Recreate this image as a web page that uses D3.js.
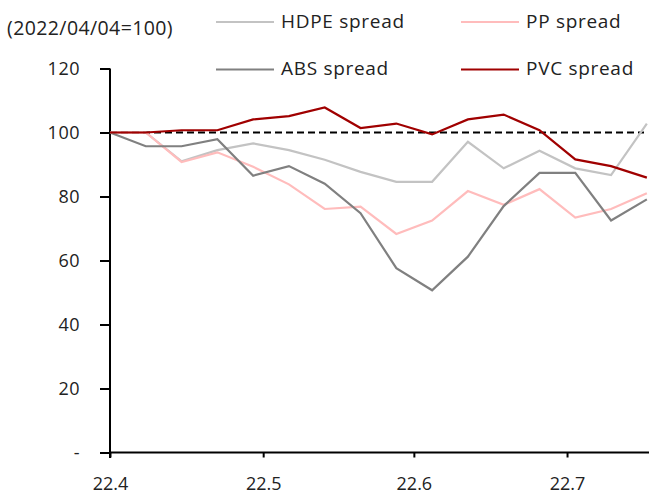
<!DOCTYPE html>
<html>
<head>
<meta charset="utf-8">
<script src="https://cdn.jsdelivr.net/npm/d3@7"></script>
<style>
  body { margin: 0; background: #fff; }
  text { font-family: "Open Sans", "Noto Sans", sans-serif; fill: #222; }
</style>
</head>
<body>
<script>
// weekly points, index 0 = 2022/04/04
var weeks = d3.range(16);
var hdpe = [100, 100, 91, 94.5, 96.6, 94.5, 91.5, 87.7, 84.6, 84.6, 97.1, 88.8, 94.3, 88.8, 86.7, 102.8];
var pp   = [100, 100, 90.8, 93.8, 89.3, 83.8, 76.1, 76.8, 68.3, 72.5, 81.7, 77.4, 82.3, 73.4, 76.1, 81.0];
var abs  = [100, 95.7, 95.7, 97.9, 86.5, 89.5, 84, 74.8, 57.6, 50.7, 61.2, 77.0, 87.4, 87.4, 72.5, 79.1];
var pvc  = [100, 100, 100.7, 100.7, 104.1, 105.1, 107.8, 101.4, 102.8, 99.4, 104.1, 105.6, 100.7, 91.6, 89.5, 85.9];

var xTicks = [0, 4.28, 8.49, 12.77];
var xLabels = ["22.4", "22.5", "22.6", "22.7"];
var yTicks = [0, 20, 40, 60, 80, 100, 120];

var series = [
  {name: "HDPE spread", values: hdpe, color: "#c3c3c3"},
  {name: "PP spread", values: pp, color: "#ffbcbc"},
  {name: "ABS spread", values: abs, color: "#808080"},
  {name: "PVC spread", values: pvc, color: "#a00000"}
];

var svg = d3.select("body").append("svg")
  .attr("width", 649)
  .attr("height", 492);

var x = d3.scaleLinear().domain([0, 15.06]).range([110, 649]);
var y = d3.scaleLinear().domain([0, 120]).range([452.5, 68.5]);

// y axis
var yAxis = svg.append("g")
  .attr("transform", "translate(110,0)")
  .call(d3.axisLeft(y).tickValues(yTicks).tickSize(10).tickPadding(20)
    .tickFormat(function(d) { return d === 0 ? "-" : d; }));
yAxis.select(".domain").attr("stroke", "#000").attr("stroke-width", 2)
  .attr("d", "M0,68.5V458");
yAxis.selectAll(".tick line").attr("stroke", "#000").attr("stroke-width", 2);
yAxis.selectAll("text").style("font-size", "18px").style("letter-spacing", "0.5px").attr("fill", "#222");

// x axis
var xAxis = svg.append("g")
  .attr("transform", "translate(0,452.5)")
  .call(d3.axisBottom(x).tickValues(xTicks).tickSize(5).tickPadding(20)
    .tickFormat(function(d, i) { return xLabels[i]; }));
xAxis.select(".domain").attr("stroke", "#000").attr("stroke-width", 2)
  .attr("d", "M110,0H649");
xAxis.selectAll(".tick line").attr("stroke", "#000").attr("stroke-width", 2);
xAxis.selectAll("text").style("font-size", "18px").attr("fill", "#222");

// reference line at 100
svg.append("line")
  .attr("x1", x(0)).attr("x2", 644)
  .attr("y1", y(100)).attr("y2", y(100))
  .attr("stroke", "#000")
  .attr("stroke-width", 2)
  .attr("stroke-dasharray", "7,4");

var line = d3.line()
  .x(function(d, i) { return x(weeks[i]); })
  .y(function(d) { return y(d); });

svg.selectAll(".series")
  .data(series)
  .enter().append("path")
  .attr("class", "series")
  .attr("d", function(d) { return line(d.values); })
  .attr("fill", "none")
  .attr("stroke", function(d) { return d.color; })
  .attr("stroke-width", 2.2);

// unit label
svg.append("text")
  .attr("x", 7)
  .attr("y", 35)
  .style("font-size", "19.5px")
  .style("letter-spacing", "0.4px")
  .text("(2022/04/04=100)");

// legend
var legPos = [[216, 22], [461, 22], [216, 69.5], [461, 69.5]];
var leg = svg.selectAll(".leg")
  .data(series)
  .enter().append("g")
  .attr("class", "leg")
  .attr("transform", function(d, i) { return "translate(" + legPos[i][0] + "," + legPos[i][1] + ")"; });
leg.append("line")
  .attr("x1", 0).attr("x2", 58)
  .attr("stroke", function(d) { return d.color; })
  .attr("stroke-width", 2.2);
leg.append("text")
  .attr("x", 65)
  .attr("dy", "0.3em")
  .style("font-size", "19px")
  .style("letter-spacing", "0.7px")
  .text(function(d) { return d.name; });
</script>
</body>
</html>
